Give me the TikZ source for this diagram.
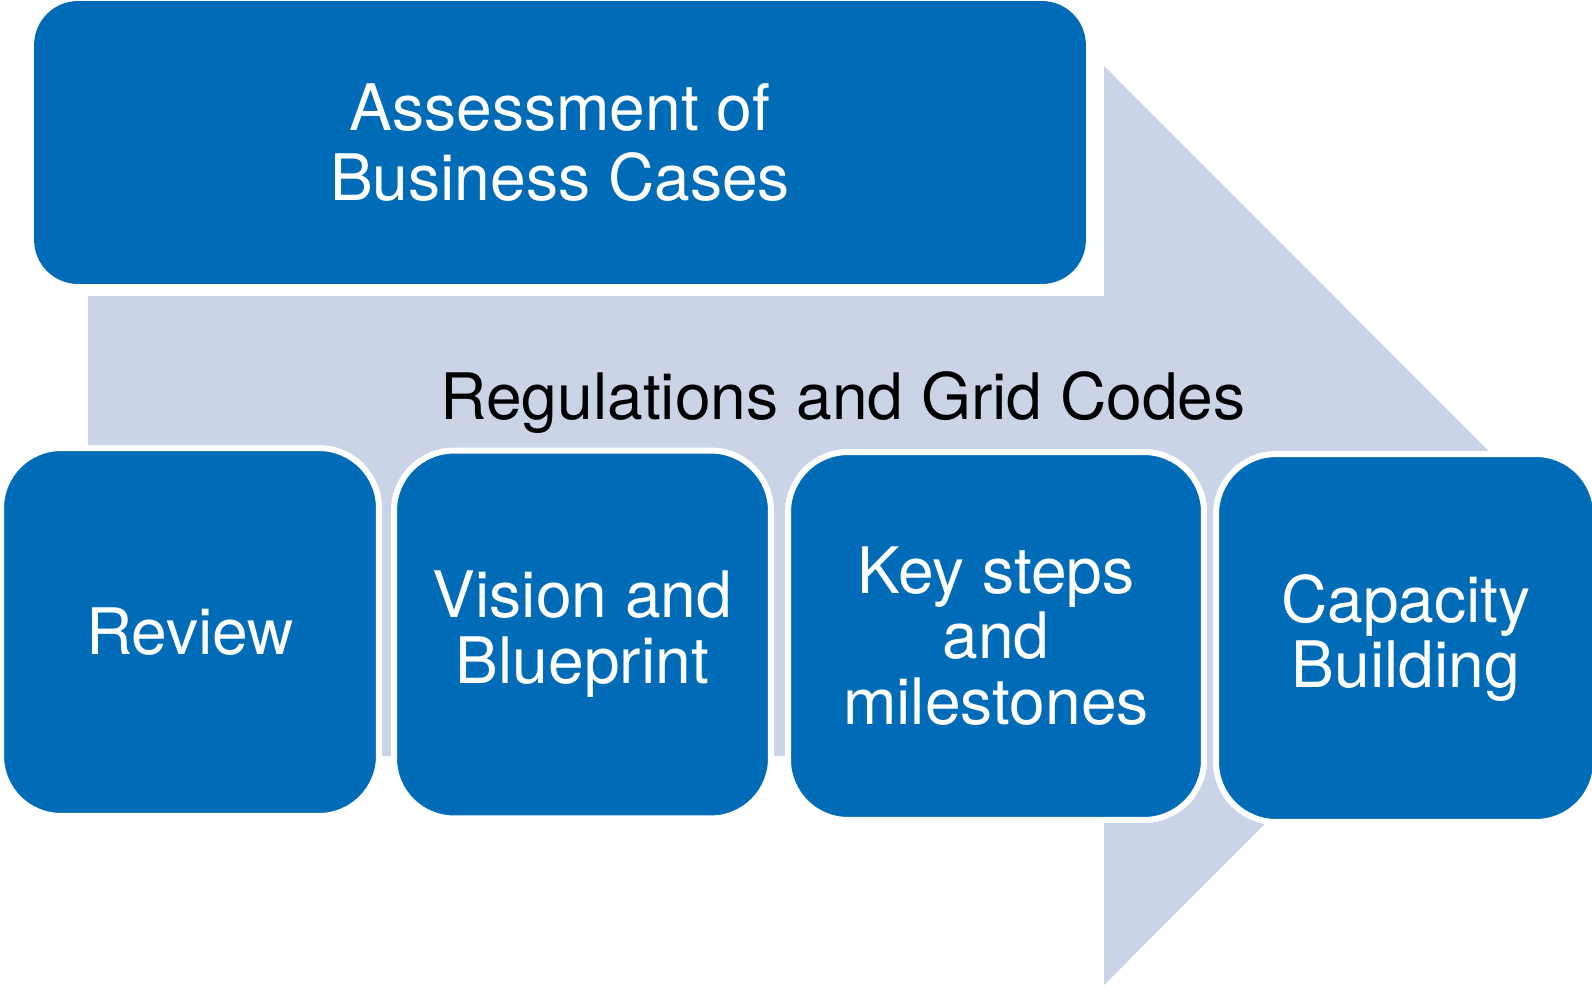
\documentclass[tikz,border=0pt]{standalone}
\usepackage{fontspec}
\setmainfont{TeX Gyre Heros}
\usepackage{xcolor}
\definecolor{boxblue}{RGB}{0,108,183}
\definecolor{arrowgrey}{RGB}{203,212,230}
\tikzset{
  bluebox/.style={draw=white, line width=0.12cm, fill=boxblue, rounded corners=1.2cm,
    text=white, align=center, inner sep=0pt, font=\fontsize{36.5}{37.5}\selectfont},
}
\begin{document}
\begin{tikzpicture}[x=0.02cm, y=-0.02cm]
\useasboundingbox (0,0) rectangle (1592,987);
% big arrow behind everything
\fill[arrowgrey] (88,296) -- (1104,296) -- (1104,66) -- (1563,525.5) -- (1104,985)
  -- (1104,756) -- (88,756) -- cycle;
\node[bluebox, draw=none, rounded corners=0.88cm, minimum width=21.04cm, minimum height=5.66cm,
  font=\fontsize{36.5}{39.8}\selectfont] (assess) at (560,142.5) {Assessment of\\Business Cases};
\node[font=\fontsize{36.5}{40}\selectfont, anchor=base] (regul) at (843,419) {Regulations and Grid Codes};
% the four steps
\node[bluebox, minimum width=7.56cm, minimum height=7.36cm] (review) at (190,632) {Review};
\node[bluebox, minimum width=7.54cm, minimum height=7.36cm] (vision) at (582.5,634.5) {Vision and\\Blueprint};
\node[bluebox, minimum width=8.32cm, minimum height=7.36cm] (keysteps) at (996,636) {Key steps\\and\\milestones};
\node[bluebox, minimum width=7.6cm, minimum height=7.36cm] (capacity) at (1406,638) {Capacity\\Building};
\end{tikzpicture}
\end{document}
